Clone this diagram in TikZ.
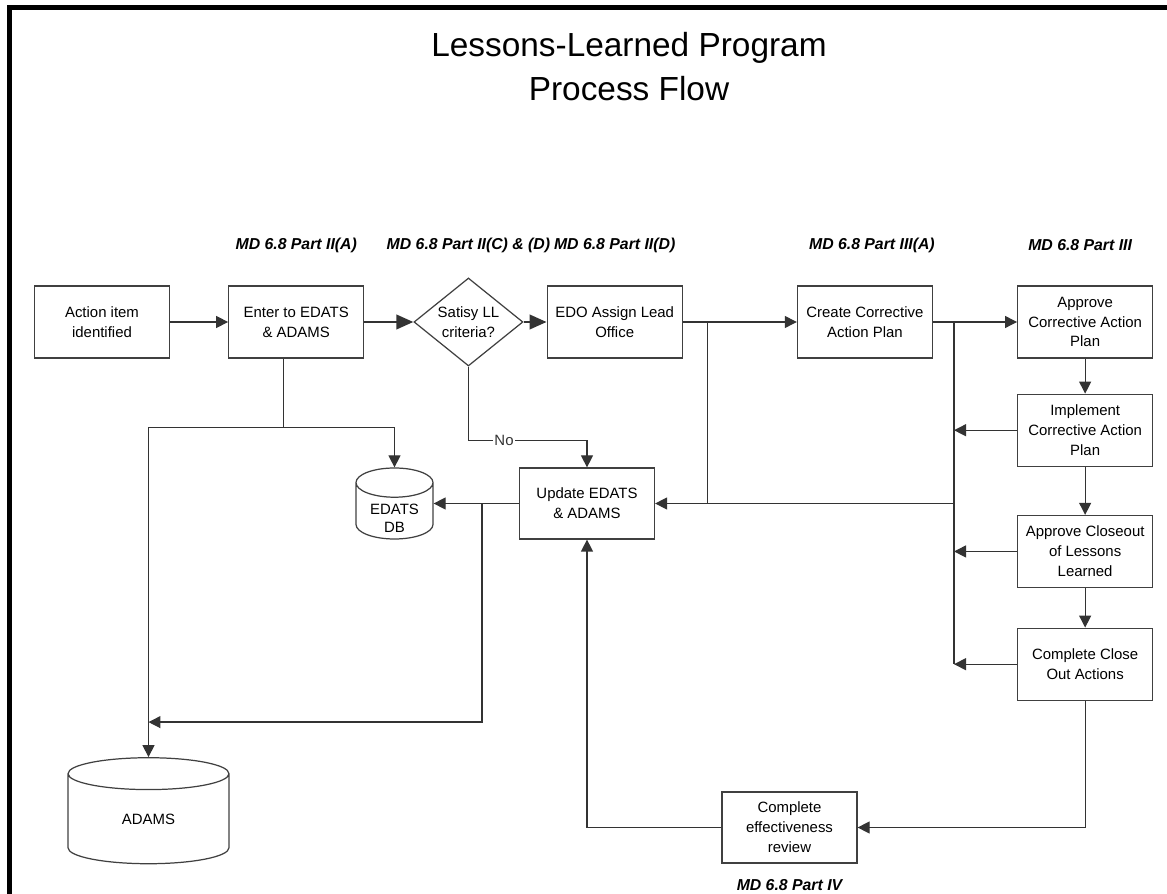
\documentclass[tikz,border=0pt]{standalone}
\usepackage{fontspec}
\setmainfont{Liberation Sans}
\usetikzlibrary{positioning,arrows.meta,shapes.geometric,calc}

\begin{document}
\begin{tikzpicture}[node distance=0.5cm and 1.0cm, every node/.style={align=center},
  box/.style={draw=black!75, line width=0.7pt, minimum width=2.7cm, minimum height=1.44cm,
              inner sep=2pt, font=\fontsize{8.5}{11.3}\selectfont},
  db/.style={draw=black!75, line width=0.7pt, cylinder, shape border rotate=90, aspect=0.6,
             inner sep=0pt, font=\fontsize{8.5}{10.5}\selectfont},
  ref/.style={font=\fontsize{9}{11}\selectfont\bfseries\itshape, inner sep=0pt},
  arr/.style={-{Triangle[length=2.4mm,width=2.4mm]}, line width=0.7pt, black!80},
  thk/.style={-{Triangle[length=3.4mm,width=2.9mm]}, line width=1.4pt, black!80},
  ln/.style={line width=0.7pt, black!80}]
\useasboundingbox (0,0) rectangle (23.34,-17.88);
\draw[line width=2.3pt] (0.19,-17.88) -- (0.19,-0.15) -- (23.34,-0.15);

\node[font=\fontsize{19}{25}\selectfont] (T) at (12.58,-1.34) {Lessons-Learned Program\\Process Flow};

\node[box] (A) at (2.04,-6.44) {Action item\\identified};
\node[box, right=1.16cm of A] (B) {Enter to EDATS\\\& ADAMS};
\node[draw=black!75, line width=0.7pt, diamond, aspect=1.24, minimum width=2.18cm, minimum height=1.76cm,
      inner sep=0pt, font=\fontsize{8.5}{11.3}\selectfont, right=0.98cm of B] (C) {Satisy LL\\criteria?};
\node[box, right=0.46cm of C] (D) {EDO Assign Lead\\Office};
\node[box, right=2.28cm of D] (E) {Create Corrective\\Action Plan};
\node[box, right=1.68cm of E] (F) {Approve\\Corrective Action\\Plan};
\node[box, below=0.70cm of F] (G) {Implement\\Corrective Action\\Plan};
\node[box, below=0.96cm of G] (H) {Approve Closeout\\of Lessons\\Learned};
\node[box, below=0.79cm of H] (I) {Complete Close\\Out Actions};
\node[box, minimum height=1.42cm] (U) at (11.74,-10.07) {Update EDATS\\\& ADAMS};
\node[box, minimum height=1.42cm] (J) at (15.79,-16.55) {Complete\\effectiveness\\review};
\node[db, minimum width=1.54cm, minimum height=1.42cm, anchor=shape center,
      label={[font=\fontsize{8.5}{10.5}\selectfont, yshift=-0.14cm]center:EDATS\\DB}] (DB1) at (7.89,-10.07) {\phantom{EDATS}};
\node[db, minimum width=3.22cm, minimum height=2.12cm] (DB2) at (2.97,-16.38) {ADAMS};

\node[ref] (rB) at ($(B)+(0,1.54)$) {MD 6.8 Part II(A)};
\node[ref] (rC) at ($(C)+(0,1.54)$) {MD 6.8 Part II(C) \& (D)};
\node[ref] (rD) at ($(D)+(0,1.54)$) {MD 6.8 Part II(D)};
\node[ref] (rE) at ($(E)+(0.14,1.54)$) {MD 6.8 Part III(A)};
\node[ref] (rF) at ($(F)+(-0.1,1.54)$) {MD 6.8 Part III};
\node[ref] (rJ) at ($(J)+(0,-1.15)$) {MD 6.8 Part IV};

\coordinate (j1) at ($(D.east)+(0.5,0)$);
\coordinate (j2) at ($(E.east)+(0.42,0)$);
\coordinate (j3) at ($(B.south)+(-0.26,-1.38)$);
\coordinate (j4) at ($(U.west)+(-0.74,0)$);

\draw[arr] (A) -- (B);
\draw[thk] (B) -- (C);
\draw[thk] (C) -- (D);
\draw[arr] (D) -- (E);
\draw[arr] (E) -- (F);
\draw[arr] (F) -- (G);
\draw[arr] (G) -- (H);
\draw[arr] (H) -- (I);
\draw[ln] (j1) -- (j1 |- U.east);
\draw[ln] (j2) -- (j2 |- I.west);
\draw[arr] (j2 |- U.east) -- (U.east);
\foreach \n in {G,H,I} \draw[arr] (\n.west) -- (j2 |- \n.west);
\draw[arr] (I.south) |- (J.east);
\draw[arr] (J.west) -| (U.south);
\draw[arr] (C.south) |- node[pos=0.65, fill=white, inner sep=1pt, font=\fontsize{8.5}{10}\selectfont] {No}
      ($(U.north)+(0,0.54)$) -- (U.north);
\draw[ln] (j3 |- B.south) -- (j3);
\draw[arr] (DB2.north |- j3) -| (DB1.north);
\draw[arr] (DB2.north |- j3) -- (DB2.north);
\draw[arr] (U.west) -- (U.west -| DB1.east);
\draw[arr] (j4) |- ($(DB2.north)+(0,0.7)$);
\end{tikzpicture}
\end{document}
